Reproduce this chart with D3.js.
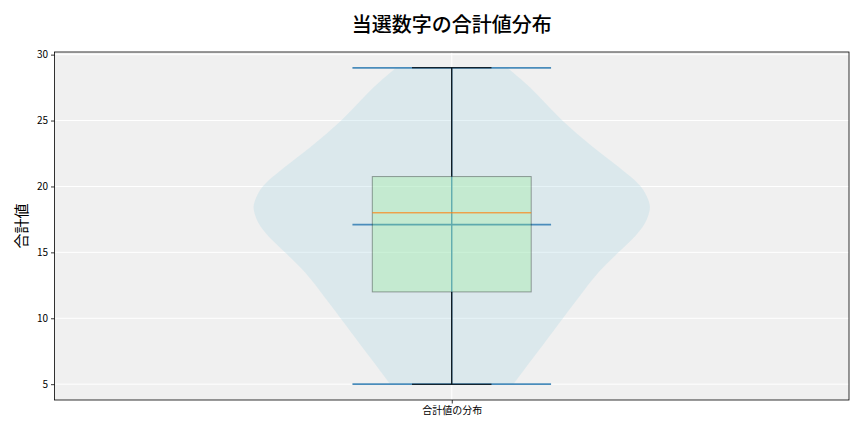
<!DOCTYPE html>
<html>
<head>
<meta charset="utf-8">
<script src="https://cdn.jsdelivr.net/npm/d3@7"></script>
<style>
  body { margin: 0; background: #fff; }
  svg { display: block; font-family: "Noto Sans CJK JP", "Noto Sans", sans-serif; }
</style>
</head>
<body>
<svg id="chart" width="864" height="432"></svg>
<script>
// category on the x axis
var categories = ["合計値の分布"];
var yTicks = [5, 10, 15, 20, 25, 30];

// violin outline: value -> relative density (max = 1)
var densityValues = [5, 6, 7, 8, 9, 10, 11, 12, 13, 14, 15, 16, 17, 18, 18.5, 19, 20, 21, 22, 23, 24, 25, 26, 27, 28, 29];
var densityWidths = [0.31, 0.36, 0.41, 0.46, 0.51, 0.56, 0.61, 0.66, 0.71, 0.77, 0.84, 0.91, 0.97, 0.995, 1.0, 0.99, 0.96, 0.88, 0.795, 0.71, 0.63, 0.555, 0.49, 0.43, 0.36, 0.28];

// box plot statistics
var boxStats = [5, 12, 18, 20.75, 29]; // min, q1, median, q3, max
var meanValue = [17.1];

var svg = d3.select("#chart");
var margin = { left: 54.5, right: 849, top: 52, bottom: 400 };

var x = d3.scaleLinear().domain([0.5, 1.5]).range([margin.left, margin.right]);
var y = d3.scaleLinear().domain([3.8, 30.2]).range([margin.bottom, margin.top]);

// axes background
svg.append("rect")
  .attr("x", margin.left).attr("y", margin.top)
  .attr("width", margin.right - margin.left).attr("height", margin.bottom - margin.top)
  .attr("fill", "#f0f0f0");

// grid
svg.append("g").selectAll("line").data(yTicks).enter().append("line")
  .attr("x1", margin.left).attr("x2", margin.right)
  .attr("y1", function(d) { return y(d); }).attr("y2", function(d) { return y(d); })
  .attr("stroke", "#fff").attr("stroke-width", 1);
svg.append("line")
  .attr("x1", x(1)).attr("x2", x(1))
  .attr("y1", margin.top).attr("y2", margin.bottom)
  .attr("stroke", "#fff").attr("stroke-width", 1);

// violin body
var halfWidth = 0.25;
var violinData = densityValues.map(function(v, i) { return { v: v, w: densityWidths[i] }; });
var area = d3.area()
  .curve(d3.curveBasis)
  .y(function(d) { return y(d.v); })
  .x0(function(d) { return x(1 - d.w * halfWidth); })
  .x1(function(d) { return x(1 + d.w * halfWidth); });
svg.append("path")
  .datum(violinData)
  .attr("d", area)
  .attr("fill", "#add8e6")
  .attr("fill-opacity", 0.3);

var violinColor = "#4a8cbb";
// violin center bar
svg.append("line")
  .attr("x1", x(1)).attr("x2", x(1))
  .attr("y1", y(boxStats[0])).attr("y2", y(boxStats[4]))
  .attr("stroke", violinColor).attr("stroke-width", 1.4);
// extrema and mean bars
[boxStats[0], boxStats[4], meanValue[0]].forEach(function(v) {
  svg.append("line")
    .attr("x1", x(1 - 0.125)).attr("x2", x(1 + 0.125))
    .attr("y1", y(v)).attr("y2", y(v))
    .attr("stroke", violinColor).attr("stroke-width", 1.8);
});

// box plot
var boxHalf = 0.1;
var capHalf = 0.05;
svg.append("rect")
  .attr("x", x(1 - boxHalf)).attr("y", y(boxStats[3]))
  .attr("width", x(1 + boxHalf) - x(1 - boxHalf))
  .attr("height", y(boxStats[1]) - y(boxStats[3]))
  .attr("fill", "#90ee90").attr("fill-opacity", 0.3)
  .attr("stroke", "#000").attr("stroke-opacity", 0.35).attr("stroke-width", 1);
// whiskers
svg.append("line")
  .attr("x1", x(1)).attr("x2", x(1))
  .attr("y1", y(boxStats[3])).attr("y2", y(boxStats[4]))
  .attr("stroke", "#000").attr("stroke-width", 1.1);
svg.append("line")
  .attr("x1", x(1)).attr("x2", x(1))
  .attr("y1", y(boxStats[1])).attr("y2", y(boxStats[0]))
  .attr("stroke", "#000").attr("stroke-width", 1.1);
// caps
[boxStats[0], boxStats[4]].forEach(function(v) {
  svg.append("line")
    .attr("x1", x(1 - capHalf)).attr("x2", x(1 + capHalf))
    .attr("y1", y(v)).attr("y2", y(v))
    .attr("stroke", "#000").attr("stroke-width", 1.1);
});
// median
svg.append("line")
  .attr("x1", x(1 - boxHalf)).attr("x2", x(1 + boxHalf))
  .attr("y1", y(boxStats[2])).attr("y2", y(boxStats[2]))
  .attr("stroke", "#ff7f0e").attr("stroke-width", 1);

// axes
var yAxis = d3.axisLeft(y).tickValues(yTicks).tickSize(3.5).tickPadding(3).tickFormat(d3.format("d"));
var gy = svg.append("g").attr("transform", "translate(" + margin.left + ",0)").call(yAxis);
var xAxis = d3.axisBottom(x).tickValues([1]).tickSize(3.5).tickPadding(3)
  .tickFormat(function(d, i) { return categories[i]; });
var gx = svg.append("g").attr("transform", "translate(0," + margin.bottom + ")").call(xAxis);
[gx, gy].forEach(function(g) {
  g.select(".domain").remove();
  g.selectAll("text").attr("font-size", 10).attr("fill", "#000")
    .attr("font-family", "'Noto Sans CJK JP', sans-serif");
  g.selectAll(".tick line").attr("stroke", "#000").attr("stroke-width", 0.8);
});

// spines
svg.append("rect")
  .attr("x", margin.left).attr("y", margin.top)
  .attr("width", margin.right - margin.left).attr("height", margin.bottom - margin.top)
  .attr("fill", "none").attr("stroke", "#000").attr("stroke-width", 0.8);

// title and y label
svg.append("text")
  .attr("x", (margin.left + margin.right) / 2).attr("y", 32)
  .attr("text-anchor", "middle").attr("font-size", 20).attr("font-weight", 500)
  .text("当選数字の合計値分布");
svg.append("text")
  .attr("transform", "translate(27," + ((margin.top + margin.bottom) / 2) + ") rotate(-90)")
  .attr("text-anchor", "middle").attr("font-size", 15)
  .text("合計値");
</script>
</body>
</html>
